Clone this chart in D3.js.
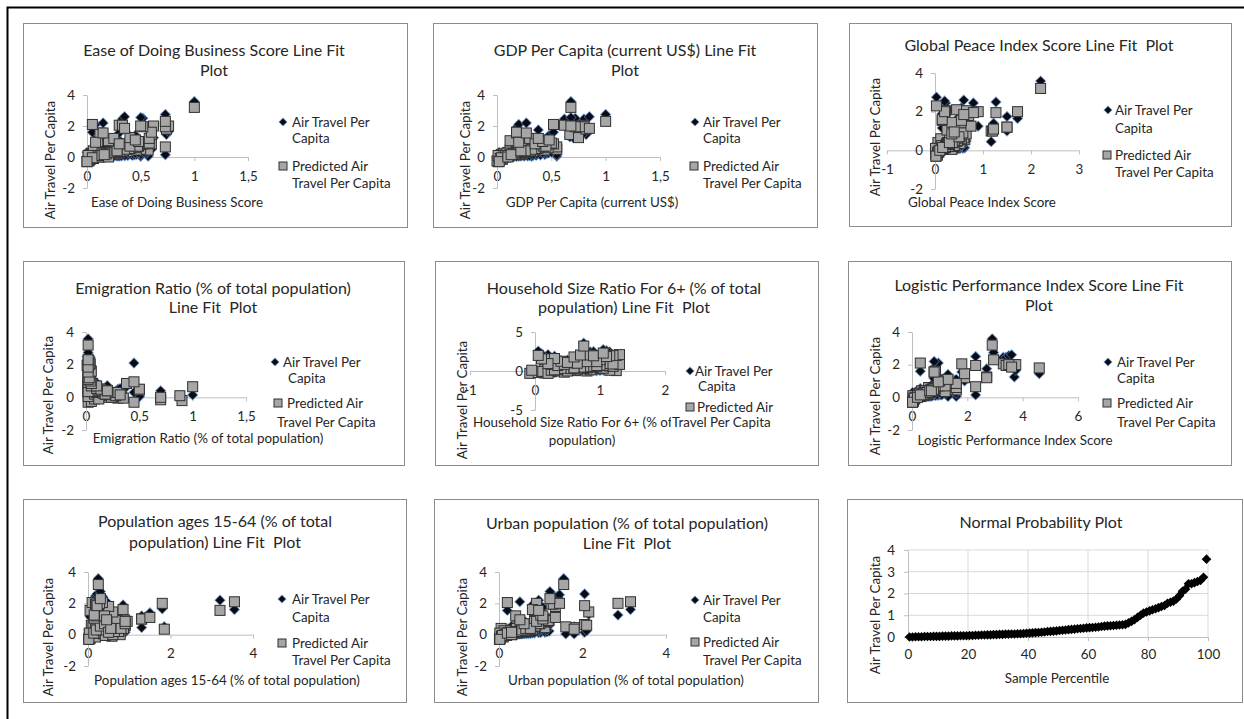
<!DOCTYPE html>
<html>
<head>
<meta charset="utf-8">
<script src="https://cdn.jsdelivr.net/npm/d3@7"></script>
<style>
  body { margin: 0; background: #fff; }
  svg text { font-family: Lato, "Open Sans", sans-serif; fill: #262626; white-space: pre; }
</style>
</head>
<body>
<svg id="chart" width="1244" height="719"></svg>
<script>
// ---- Data: one entry per country (sorted by air travel) ----
const airTravel = [
  0.00,0.00,0.01,0.01,0.01,0.02,0.02,0.02,0.03,0.03,
  0.03,0.04,0.04,0.04,0.05,0.05,0.05,0.06,0.06,0.06,
  0.07,0.07,0.08,0.08,0.09,0.09,0.10,0.10,0.11,0.11,
  0.12,0.12,0.13,0.13,0.14,0.14,0.15,0.15,0.16,0.17,
  0.18,0.19,0.20,0.21,0.22,0.23,0.25,0.26,0.27,0.28,
  0.30,0.31,0.32,0.34,0.35,0.36,0.38,0.39,0.40,0.42,
  0.43,0.44,0.45,0.46,0.48,0.50,0.51,0.52,0.53,0.54,
  0.55,0.56,0.58,0.65,0.72,0.80,0.90,1.00,1.10,1.15,
  1.20,1.25,1.30,1.35,1.40,1.45,1.55,1.60,1.65,1.75,
  1.90,2.10,2.20,2.45,2.45,2.50,2.55,2.60,2.75,3.58
];
const predictedAir = [
  -0.30,-0.25,-0.20,-0.10,0.05,0.15,0.20,0.00,0.30,0.40,
  0.10,0.25,-0.05,0.35,0.45,0.50,0.15,0.05,0.20,0.60,
  -0.15,0.30,0.10,0.50,0.25,0.10,0.35,0.05,0.65,0.15,
  0.40,-0.10,0.55,0.20,0.75,0.00,0.65,0.30,0.45,0.10,
  0.80,0.25,-0.05,0.55,0.35,0.90,0.60,0.15,0.45,0.70,
  -0.30,0.20,0.85,0.40,0.95,0.10,0.50,0.30,0.00,0.75,
  0.40,0.20,1.00,0.60,0.85,0.30,0.35,0.55,0.70,0.15,
  0.50,0.90,0.40,0.85,0.40,1.05,0.70,1.20,0.85,1.55,
  1.00,2.00,1.45,1.25,1.10,1.80,2.05,2.10,2.00,1.20,
  1.60,0.95,1.55,2.05,1.95,1.95,2.00,1.85,2.30,3.20
];
const easeOfBusiness = [
  0.00,0.02,0.01,0.05,0.08,0.03,0.10,0.12,0.15,0.06,
  0.18,0.20,0.04,0.22,0.57,0.50,0.25,0.07,0.28,0.30,
  0.03,0.32,0.09,0.35,0.14,0.01,0.38,0.16,0.42,0.19,
  0.26,0.06,0.44,0.21,0.36,0.11,0.73,0.24,0.46,0.13,
  0.50,0.27,0.05,0.40,0.29,0.55,0.45,0.17,0.33,0.48,
  0.00,0.20,0.53,0.31,0.56,0.14,0.37,0.23,0.20,0.43,
  0.34,0.18,0.10,0.41,0.60,0.26,0.30,0.39,0.47,0.16,
  0.35,0.58,0.28,0.38,0.28,0.20,0.40,0.25,0.30,0.12,
  0.48,0.62,0.60,0.40,0.45,0.74,0.30,0.05,0.76,0.58,
  0.60,0.08,0.15,0.33,0.73,0.52,0.50,0.35,0.73,1.00
];
const gdpPerCapita = [
  0.01,0.00,0.02,0.03,0.05,0.04,0.06,0.08,0.10,0.12,
  0.03,0.15,0.02,0.18,0.32,0.55,0.20,0.04,0.22,0.25,
  0.05,0.28,0.07,0.30,0.09,0.01,0.33,0.11,0.36,0.14,
  0.19,0.03,0.40,0.16,0.26,0.06,0.55,0.21,0.44,0.08,
  0.34,0.24,0.04,0.37,0.27,0.45,0.47,0.12,0.31,0.42,
  0.02,0.17,0.50,0.29,0.46,0.10,0.34,0.20,0.10,0.40,
  0.31,0.15,0.40,0.38,0.52,0.23,0.25,0.35,0.43,0.13,
  0.32,0.50,0.26,0.40,0.22,0.12,0.45,0.30,0.35,0.18,
  0.42,0.70,0.67,0.75,0.48,0.82,0.80,0.52,0.78,0.38,
  0.18,0.20,0.27,0.62,0.80,0.72,0.68,0.85,1.00,0.68
];
const peaceIndex = [
  0.02,0.05,0.02,0.08,0.10,0.12,0.15,0.03,0.18,0.06,
  0.20,0.25,0.04,0.28,0.30,0.45,0.32,0.35,0.38,0.12,
  0.02,0.42,0.08,0.48,0.14,0.01,0.52,0.16,0.58,0.22,
  0.26,0.05,0.62,0.30,0.34,0.10,0.60,0.36,0.44,0.18,
  0.50,0.40,0.07,0.46,0.24,0.56,0.55,0.20,0.35,0.52,
  0.02,0.28,0.42,0.32,0.60,0.14,0.47,0.26,0.10,0.50,
  0.38,0.22,1.17,0.44,0.65,0.30,0.28,0.40,0.48,0.16,
  0.40,0.58,0.36,0.30,0.30,0.25,0.50,1.50,0.35,0.15,
  1.20,0.90,0.35,0.75,1.22,0.70,0.65,0.45,1.72,1.50,
  0.15,0.40,0.55,0.22,0.80,1.27,0.20,0.60,0.03,2.20
];
const emigrationRatio = [
  0.02,0.05,0.90,0.08,0.15,0.03,0.10,0.20,0.04,0.02,
  0.25,0.06,0.30,0.02,0.50,0.50,0.12,0.02,0.08,0.04,
  0.70,0.15,0.18,0.03,0.22,0.88,0.05,0.28,0.02,0.33,
  0.07,0.12,0.04,0.18,0.02,0.24,1.00,0.10,0.06,0.30,
  0.03,0.16,0.35,0.08,0.12,0.02,0.02,0.26,0.14,0.04,
  0.45,0.20,0.06,0.10,0.03,0.28,0.12,0.22,0.70,0.06,
  0.15,0.18,0.03,0.08,0.04,0.30,0.02,0.10,0.05,0.32,
  0.14,0.02,0.20,0.38,0.20,0.04,0.10,0.02,0.05,0.03,
  0.04,0.02,0.03,0.02,0.02,0.02,0.03,0.02,0.02,0.03,
  0.05,0.45,0.02,0.04,0.02,0.01,0.03,0.02,0.02,0.02
];
const household6Plus = [
  -0.08,0.15,0.05,0.25,0.35,0.50,0.65,0.80,0.95,1.10,
  0.20,0.40,0.10,0.70,1.00,0.60,0.85,1.25,0.30,0.55,
  0.45,0.75,1.15,0.90,0.15,-0.05,1.05,0.62,1.20,0.35,
  0.80,0.22,0.95,0.45,1.10,0.30,1.15,0.55,0.70,0.20,
  1.00,0.65,0.12,0.85,0.40,1.25,1.20,0.28,0.75,1.05,
  0.20,0.50,0.90,0.60,1.15,0.25,0.80,0.45,0.50,1.00,
  0.65,0.35,0.95,0.85,1.30,0.55,0.40,0.75,0.95,0.30,
  0.70,1.20,0.60,0.25,0.60,0.55,0.35,0.80,0.45,0.15,
  0.65,1.25,1.00,0.40,0.50,0.60,0.70,1.30,1.20,0.95,
  0.30,0.20,0.10,0.85,1.15,0.90,0.05,1.10,1.05,0.75
];
const logisticsIndex = [
  0.02,0.05,0.05,0.10,0.15,0.20,0.25,0.05,0.30,0.35,
  0.12,0.40,0.08,0.45,1.60,1.30,0.50,0.18,0.55,0.60,
  0.05,0.65,0.22,0.70,0.28,0.03,0.75,0.32,0.85,0.38,
  0.48,0.06,0.95,0.42,1.05,0.12,2.30,0.52,0.90,0.25,
  1.10,0.58,0.08,0.80,0.62,1.20,1.60,0.35,0.68,1.00,
  0.02,0.44,1.25,0.66,1.15,0.20,0.75,0.50,0.20,1.05,
  0.72,0.40,1.35,0.88,1.20,0.55,1.20,0.82,0.98,0.30,
  0.78,1.30,0.64,1.30,0.70,1.00,1.20,1.90,1.60,0.80,
  1.00,3.70,1.90,2.70,1.30,4.60,1.80,0.30,3.75,2.70,
  0.85,0.95,0.80,3.30,3.40,2.30,3.50,3.60,2.95,2.90
];
const popAges1564 = [
  0.02,0.05,0.03,0.08,0.10,0.12,0.15,0.05,0.20,0.25,
  0.30,0.35,0.40,0.45,0.70,0.75,0.50,0.55,0.60,0.08,
  0.18,0.65,0.22,0.12,0.28,0.03,0.32,0.38,0.42,0.48,
  0.52,0.58,0.62,0.68,0.72,0.78,0.90,0.80,0.18,0.26,
  0.32,0.36,0.42,0.46,0.50,0.56,0.90,0.60,0.64,0.68,
  0.02,0.74,0.80,0.86,0.88,0.14,0.24,0.34,0.60,0.44,
  0.54,0.64,1.30,0.74,0.84,0.20,1.85,0.30,0.40,0.50,
  0.60,0.70,0.80,0.95,0.55,0.15,0.90,0.20,0.90,0.05,
  1.30,0.35,0.60,0.15,1.50,0.50,0.10,3.55,1.80,0.40,
  0.85,0.45,3.20,0.35,0.18,0.20,0.28,0.22,0.30,0.25
];
const urbanPopulation = [
  0.01,0.03,0.02,0.10,0.15,0.20,0.25,0.30,0.35,0.05,
  0.45,0.12,0.18,0.50,1.80,1.60,0.55,0.08,0.60,0.65,
  0.10,0.70,0.22,0.75,0.28,0.02,0.80,0.32,0.85,0.38,
  0.42,0.06,0.95,0.48,1.00,0.14,2.05,0.58,1.10,0.26,
  1.15,0.62,0.08,0.88,0.68,1.20,2.10,0.35,0.72,0.98,
  0.02,0.44,1.15,0.66,1.00,0.20,0.78,0.52,0.30,0.92,
  0.70,0.40,1.10,0.82,1.12,0.55,1.80,0.86,0.95,0.30,
  0.76,1.18,0.64,0.85,0.75,1.05,0.60,0.40,0.90,0.85,
  1.05,2.85,2.15,1.00,1.35,1.35,0.20,3.15,0.90,1.05,
  0.80,0.50,0.95,1.40,1.25,1.30,1.45,2.05,1.22,1.55
];

// Axis tick values
const ticksUnit = [0, 0.5, 1, 1.5];
const ticksAir = [-2, 0, 2, 4];
const ticksPeace = [-1, 0, 1, 2, 3];
const ticksHousehold = [-1, 0, 1, 2];
const ticksHouseholdY = [-5, 0, 5];
const ticksLogistics = [0, 2, 4, 6];
const ticksFour = [0, 2, 4];
const ticksPercentile = [0, 20, 40, 60, 80, 100];
const ticksNormalY = [0, 1, 2, 3, 4];

// ---- Layout of the nine panels ----
const legendText = ["Air Travel Per", "Capita", "Predicted Air", "Travel Per Capita"];
const panels = [
  { xs: easeOfBusiness, box: [23, 23, 384, 204],
    title: [["Ease of Doing Business Score Line Fit", 191, 27], ["Plot", 191, 47]],
    xLabel: [["Ease of Doing Business Score", 154, 179, "middle"]], yLabel: [27, 137],
    xDom: [0, 1.5], xTicks: ticksUnit, xRange: [64, 225], yDom: [-2, 4], yTicks: ticksAir, yRange: [165, 72],
    legend: { diamond: [260, 99], square: [260, 143], lines: [[269, 99], [269, 115], [269, 143], [269, 160]] } },
  { xs: gdpPerCapita, box: [433, 23, 384, 204],
    title: [["GDP Per Capita (current US$) Line Fit", 192, 27], ["Plot", 192, 47]],
    xLabel: [["GDP Per Capita (current US$)", 159, 179, "middle"]], yLabel: [32, 137],
    xDom: [0, 1.5], xTicks: ticksUnit, xRange: [64, 227], yDom: [-2, 4], yTicks: ticksAir, yRange: [165, 72],
    legend: { diamond: [262, 99], square: [261, 143], lines: [[270, 99], [270, 115], [270, 143], [270, 160]] } },
  { xs: peaceIndex, box: [849, 23, 382, 203],
    title: [["Global Peace Index Score Line Fit  Plot", 190, 22]],
    xLabel: [["Global Peace Index Score", 133, 179, "middle"]], yLabel: [26, 114],
    xDom: [-1, 3], xTicks: ticksPeace, xRange: [38, 230], yDom: [-2, 4], yTicks: ticksAir, yRange: [166, 50],
    legend: { diamond: [259, 87], square: [258, 132], lines: [[266, 87], [266, 105], [266, 132], [266, 149]] } },
  { xs: emigrationRatio, box: [23, 261, 381, 204],
    title: [["Emigration Ratio (% of total population)", 190, 27], ["Line Fit  Plot", 190, 46]],
    xLabel: [["Emigration Ratio (% of total population)", 185, 177, "middle"]], yLabel: [25, 134],
    xDom: [0, 1.5], xTicks: ticksUnit, xRange: [63, 223], yDom: [-2, 4], yTicks: ticksAir, yRange: [169, 71],
    legend: { diamond: [252, 101], square: [255, 142], lines: [[260, 101], [265, 117], [264, 142], [254, 161]] } },
  { xs: household6Plus, box: [435, 261, 383, 204],
    title: [["Household Size Ratio For 6+ (% of total", 189, 27], ["population) Line Fit  Plot", 189, 46]],
    xLabel: [["Household Size Ratio For 6+ (% of total", 38, 161, "start"], ["population)", 147, 179, "middle"]], yLabel: [27, 139],
    xDom: [-1, 2], xTicks: ticksHousehold, xRange: [35, 230], yDom: [-5, 5], yTicks: ticksHouseholdY, yRange: [149, 71],
    legendBg: true,
    legend: { diamond: [255, 110], square: [255, 146], lines: [[260, 110], [263, 125], [262, 146], [237, 161]] } },
  { xs: logisticsIndex, box: [848, 261, 383, 204],
    title: [["Logistic Performance Index Score Line Fit", 191, 24], ["Plot", 191, 44]],
    xLabel: [["Logistic Performance Index Score", 167, 179, "middle"]], yLabel: [27, 135],
    xDom: [0, 6], xTicks: ticksLogistics, xRange: [64, 230], yDom: [-2, 4], yTicks: ticksAir, yRange: [169, 71],
    legend: { diamond: [260, 101], square: [259, 142], lines: [[269, 101], [269, 117], [269, 142], [269, 161]] } },
  { xs: popAges1564, box: [23, 499, 383, 203],
    title: [["Population ages 15-64 (% of total", 192, 22], ["population) Line Fit  Plot", 192, 43]],
    xLabel: [["Population ages 15-64 (% of total population)", 204, 181, "middle"]], yLabel: [25, 138],
    xDom: [0, 4], xTicks: ticksFour, xRange: [65, 230], yDom: [-2, 4], yTicks: ticksAir, yRange: [167, 73],
    legend: { diamond: [259, 100], square: [259, 144], lines: [[269, 100], [269, 118], [269, 144], [269, 161]] } },
  { xs: urbanPopulation, box: [434, 499, 384, 203],
    title: [["Urban population (% of total population)", 193, 24], ["Line Fit  Plot", 193, 44]],
    xLabel: [["Urban population (% of total population)", 192, 181, "middle"]], yLabel: [28, 138],
    xDom: [0, 4], xTicks: ticksFour, xRange: [65, 232], yDom: [-2, 4], yTicks: ticksAir, yRange: [167, 73],
    legend: { diamond: [261, 101], square: [261, 143], lines: [[269, 101], [269, 118], [269, 143], [269, 161]] } }
];

const TITLE_SIZE = 16;
const TEXT_SIZE = 13.4;
const AXIS_COLOR = "#bfbfbf";
const GRID_COLOR = "#d9d9d9";
const BORDER_COLOR = "#8c8c8c";

const svg = d3.select("#chart");

// Page frame (only its top and left edges fall inside the page)
svg.append("rect")
  .attr("x", 7.5).attr("y", 7.5).attr("width", 1300).attr("height", 800)
  .attr("fill", "none").attr("stroke", "#000").attr("stroke-width", 2);

const fmt = d => String(d).replace(".", ",");
const diamond = r => `M0,${-r}L${r},0L0,${r}L${-r},0Z`;

function styleAxis(sel) {
  sel.select(".domain").attr("stroke", AXIS_COLOR);
  sel.selectAll(".tick line").attr("stroke", AXIS_COLOR);
  sel.selectAll(".tick text").attr("font-size", TEXT_SIZE).attr("fill", "#262626")
    .style("font-family", "Lato, 'Open Sans', sans-serif");
}

function addText(g, str, x, y, size, anchor) {
  return g.append("text").attr("x", x).attr("y", y).attr("dy", "0.35em")
    .attr("text-anchor", anchor || "middle").attr("font-size", size).text(str);
}

function frame(p) {
  const g = svg.append("g").attr("transform", `translate(${p.box[0]},${p.box[1]})`);
  g.append("rect").attr("x", 0.5).attr("y", 0.5)
    .attr("width", p.box[2]).attr("height", p.box[3])
    .attr("fill", "#fff").attr("stroke", BORDER_COLOR);
  return g;
}

function drawScatter(p) {
  const g = frame(p);
  const x = d3.scaleLinear().domain(p.xDom).range(p.xRange);
  const y = d3.scaleLinear().domain(p.yDom).range(p.yRange);

  p.title.forEach(([t, tx, ty]) => addText(g, t, tx, ty, TITLE_SIZE));

  g.append("g").attr("transform", `translate(0,${y(0)})`)
    .call(d3.axisBottom(x).tickValues(p.xTicks).tickSize(4).tickSizeOuter(0).tickPadding(10).tickFormat(fmt))
    .call(styleAxis);
  g.append("g").attr("transform", `translate(${x(0)},0)`)
    .call(d3.axisLeft(y).tickValues(p.yTicks).tickSize(4).tickSizeOuter(0).tickPadding(8).tickFormat(fmt))
    .call(styleAxis);

  p.xLabel.forEach(([t, lx, ly, a]) => addText(g, t, lx, ly, TEXT_SIZE, a));
  addText(g, "Air Travel Per Capita", 0, 0, TEXT_SIZE)
    .attr("transform", `translate(${p.yLabel[0]},${p.yLabel[1]}) rotate(-90)`);

  // Observed values
  g.append("g").selectAll("path")
    .data(airTravel.map((v, i) => [p.xs[i], v]))
    .join("path")
    .attr("d", diamond(4.6))
    .attr("transform", d => `translate(${x(d[0])},${y(d[1])})`)
    .attr("fill", "#0b0b14").attr("stroke", "#4f81bd").attr("stroke-width", 1.6)
    .attr("stroke-opacity", 0.75).style("paint-order", "stroke");

  // Fitted values
  g.append("g").selectAll("rect")
    .data(predictedAir.map((v, i) => [p.xs[i], v]))
    .join("rect")
    .attr("x", d => x(d[0]) - 5).attr("y", d => y(d[1]) - 5)
    .attr("width", 10).attr("height", 10)
    .attr("fill", "#a6a6a6").attr("stroke", "#303030").attr("stroke-width", 1);

  // Legend
  const L = p.legend;
  if (p.legendBg) {
    const [lx, ly] = L.lines[3];
    g.append("rect").attr("x", lx - 1).attr("y", ly - 8).attr("width", p.box[2] - lx - 2).attr("height", 16).attr("fill", "#fff");
  }
  g.append("path").attr("d", diamond(3.6))
    .attr("transform", `translate(${L.diamond[0]},${L.diamond[1]})`)
    .attr("fill", "#0b0b14").attr("stroke", "#4f81bd").attr("stroke-width", 1.4)
    .attr("stroke-opacity", 0.75).style("paint-order", "stroke");
  g.append("rect").attr("x", L.square[0] - 4).attr("y", L.square[1] - 4)
    .attr("width", 8).attr("height", 8)
    .attr("fill", "#a6a6a6").attr("stroke", "#303030");
  L.lines.forEach(([lx, ly], i) => addText(g, legendText[i], lx, ly, TEXT_SIZE, "start"));
}

panels.forEach(drawScatter);

// ---- Normal probability plot ----
(function () {
  const p = { box: [847, 499, 395, 203] };
  const g = frame(p);
  const x = d3.scaleLinear().domain([0, 100]).range([61, 361]);
  const y = d3.scaleLinear().domain([0, 4]).range([138, 51]);
  const sorted = d3.sort(airTravel);
  const n = sorted.length;

  addText(g, "Normal Probability Plot", 194, 23, TITLE_SIZE);

  // gridlines
  g.append("g").selectAll("line").data(ticksNormalY.slice(1)).join("line")
    .attr("x1", x(0)).attr("x2", x(100)).attr("y1", d => y(d)).attr("y2", d => y(d))
    .attr("stroke", GRID_COLOR);
  g.append("g").selectAll("line").data(ticksPercentile.slice(1)).join("line")
    .attr("x1", d => x(d)).attr("x2", d => x(d)).attr("y1", y(0)).attr("y2", y(4))
    .attr("stroke", GRID_COLOR);

  g.append("g").attr("transform", `translate(0,${y(0)})`)
    .call(d3.axisBottom(x).tickValues(ticksPercentile).tickSize(4).tickSizeOuter(0).tickPadding(8).tickFormat(fmt))
    .call(styleAxis);
  g.append("g").attr("transform", `translate(${x(0)},0)`)
    .call(d3.axisLeft(y).tickValues(ticksNormalY).tickSize(4).tickSizeOuter(0).tickPadding(9).tickFormat(fmt))
    .call(styleAxis);

  addText(g, "Sample Percentile", 210, 179, TEXT_SIZE);
  addText(g, "Air Travel Per Capita", 0, 0, TEXT_SIZE)
    .attr("transform", "translate(28,116) rotate(-90)");

  g.append("g").selectAll("path")
    .data(sorted.map((v, i) => [(i + 0.5) / n * 100, v]))
    .join("path")
    .attr("d", diamond(4.8))
    .attr("transform", d => `translate(${x(d[0])},${y(d[1])})`)
    .attr("fill", "#000");
})();
</script>
</body>
</html>
